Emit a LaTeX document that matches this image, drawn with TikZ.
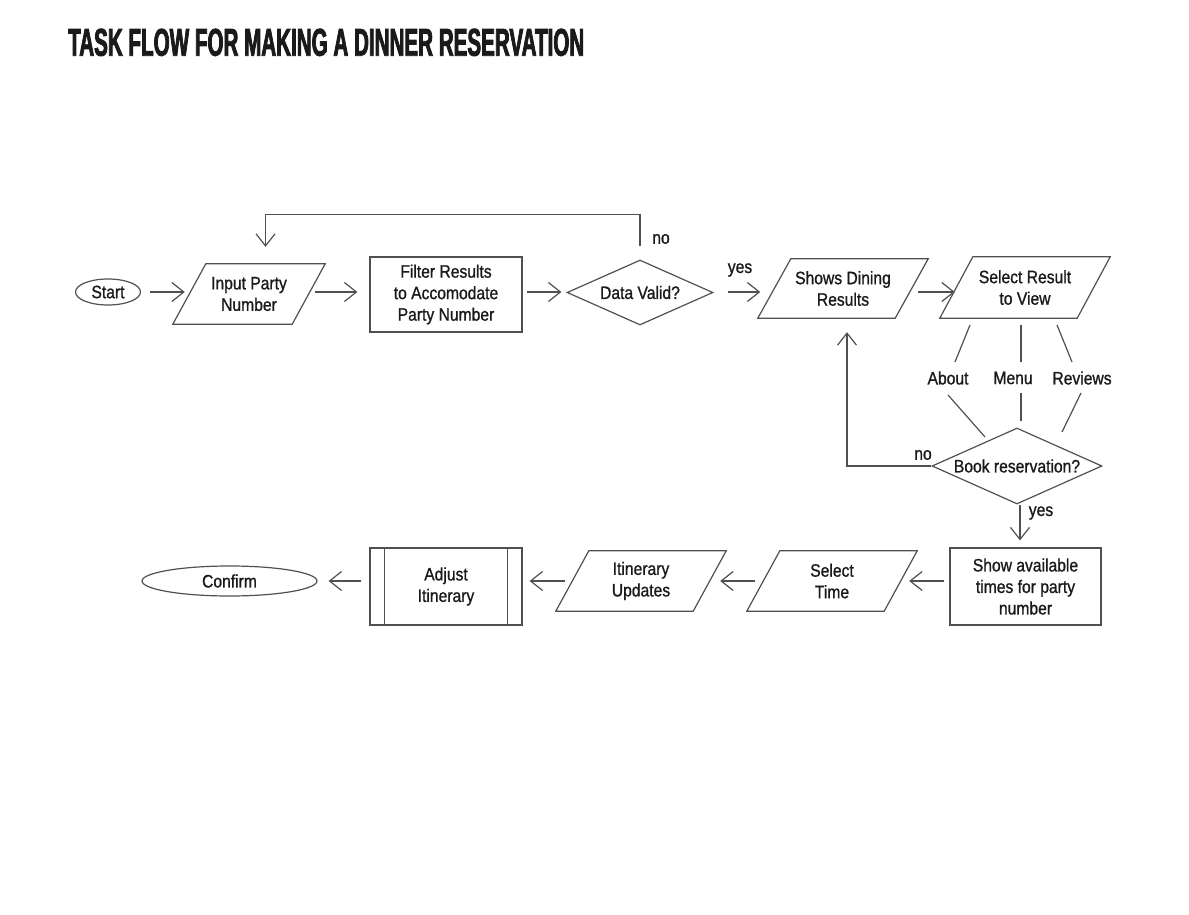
\documentclass[tikz,border=0pt]{standalone}
\usepackage{graphicx}
\usepackage{fontspec}
\setmainfont{Liberation Sans}[FakeStretch=0.87,FakeBold=1.0]
\newfontfamily\titlefont{Liberation Sans}[FakeStretch=0.6,FakeBold=2.2]
\usetikzlibrary{shapes.geometric,arrows.meta,calc}
\definecolor{linegray}{HTML}{505050}
\definecolor{textblack}{HTML}{1A1A1A}
\begin{document}
\begin{tikzpicture}[x=1pt,y=-1pt,
  every node/.style={text=textblack, font=\fontsize{18}{21.5}\selectfont, align=center},
  shp/.style={draw=linegray, line width=1.2pt, inner sep=0pt},
  oval/.style={shp, ellipse},
  box/.style={shp, rectangle},
  dec/.style={shp, diamond},
  para/.style={inner sep=0pt, minimum height=60pt,
    append after command={\pgfextra{\pgfinterruptpath
      \draw[draw=linegray, line width=1.2pt, line join=miter]
        ($(\tikzlastnode.north west)+(16.5,0)$) -- ($(\tikzlastnode.north east)+(16.5,0)$)
        -- ($(\tikzlastnode.south east)+(-16.5,0)$) -- ($(\tikzlastnode.south west)+(-16.5,0)$) -- cycle;
      \endpgfinterruptpath}}},
  lbl/.style={inner sep=0pt},
  conn/.style={draw=linegray, line width=1.2pt},
  arr/.style={conn, -{Straight Barb[length=12pt,width=19pt,line width=1.2pt]}}
]
\useasboundingbox[fill=white] (0,0) rectangle (1189,915);

% title
\node[anchor=north west, inner sep=0pt] (title) at (68,28.5)
  {\resizebox{516pt}{27pt}{\titlefont\bfseries TASK FLOW FOR MAKING A DINNER RESERVATION}};

% nodes
\node[oval, minimum width=65pt, minimum height=26pt] (start) at (108,292) {Start};
\node[para, minimum width=119pt] (input) at (249,294) {Input Party\\Number};
\node[box, minimum width=152pt, minimum height=75pt] (filter) at (446,294.5) {Filter Results\\to Accomodate\\Party Number};
\node[dec, minimum width=146pt, minimum height=65pt, aspect=2.25] (valid) at (640,292.5) {Data Valid?};
\node[para, minimum width=137pt, minimum height=59pt] (shows) at (843,288.5) {Shows Dining\\Results};
\node[para, minimum width=137pt, minimum height=61pt] (select) at (1025,287.5) {Select Result\\to View};

\node[lbl] (about) at (948,378) {About};
\node[lbl] (menu) at (1013,378) {Menu};
\node[lbl] (reviews) at (1082,378) {Reviews};

\node[dec, minimum width=170pt, minimum height=76pt, aspect=2.24] (book) at (1017,466) {Book reservation?};

\node[box, minimum width=151pt, minimum height=77pt] (times) at (1025.5,586.5) {Show available\\times for party\\number};
\node[para, minimum width=137pt] (seltime) at (832,581) {Select\\Time};
\node[para, minimum width=137pt] (itin) at (641,581) {Itinerary\\Updates};
\node[box, minimum width=152pt, minimum height=77pt] (adjust) at (446,586.5) {Adjust\\Itinerary};
\draw[conn] ($(adjust.north west)+(15,0)$) -- ($(adjust.south west)+(15,0)$);
\draw[conn] ($(adjust.north east)+(-15,0)$) -- ($(adjust.south east)+(-15,0)$);
\node[oval, minimum width=175pt, minimum height=30pt] (confirm) at (229.5,581) {Confirm};

% edge labels
\node[lbl] (no1) at (661,239) {no};
\node[lbl] (yes1) at (740,270) {yes};
\node[lbl] (no2) at (923,455) {no};
\node[lbl] (yes2) at (1041,513) {yes};

% connectors, top row
\draw[arr, shorten <=9pt, shorten >=4.5pt] (start.east) -- (start.east -| input.west);
\draw[arr, shorten <=6pt, shorten >=12pt] (start.east -| input.east) -- (start.east -| filter.west);
\draw[arr, shorten <=4pt, shorten >=5pt] (start.east -| filter.east) -- (start.east -| valid.west);
\draw[arr, shorten <=14pt, shorten >=14pt] (start.east -| valid.east) -- (start.east -| shows.west);
\draw[arr, shorten <=6.5pt, shorten >=1.5pt] (start.east -| shows.east) -- (start.east -| select.west);

% no loop from Data Valid
\coordinate (inputtop) at ($(input.north)+(16.5,0)$);
\draw[arr, shorten <=13pt, shorten >=17pt] (valid.north) -- ++(0,-45) -| (inputtop);

% branches to About / Menu / Reviews
\coordinate (s1) at (970,325); \coordinate (a1) at (955,362);
\coordinate (a2) at (948,395); \coordinate (b1) at (985,437);
\coordinate (m1) at (1021,325); \coordinate (m2) at (1021,362);
\coordinate (m3) at (1021,393); \coordinate (m4) at (1021,421);
\coordinate (r1) at (1057,325); \coordinate (r2) at (1072,362);
\coordinate (r3) at (1081,393); \coordinate (r4) at (1062,432);
\draw[conn] (s1) -- (a1); \draw[conn] (a2) -- (b1);
\draw[conn] (m1) -- (m2); \draw[conn] (m3) -- (m4);
\draw[conn] (r1) -- (r2); \draw[conn] (r3) -- (r4);

% no from Book reservation
\coordinate (showsin) at ($(shows.south)+(4,0)$);
\draw[arr, shorten >=14pt] (book.west) -| (showsin);
% yes from Book reservation
\coordinate (bookout) at ($(book.south)+(3,0)$);
\coordinate (timesin) at (bookout |- times.north);
\draw[arr, shorten >=7pt] (bookout) -- (timesin);

% bottom row
\draw[arr, shorten <=5pt, shorten >=8.5pt] (times.west |- seltime.center) -- (seltime.east);
\draw[arr, shorten <=8.5pt, shorten >=10.5pt] (seltime.west) -- (itin.east);
\draw[arr, shorten <=7.5pt, shorten >=7pt] (itin.west) -- (itin.west -| adjust.east);
\draw[arr, shorten <=8pt, shorten >=11pt] (adjust.west |- confirm.east) -- (confirm.east);
\end{tikzpicture}
\end{document}
